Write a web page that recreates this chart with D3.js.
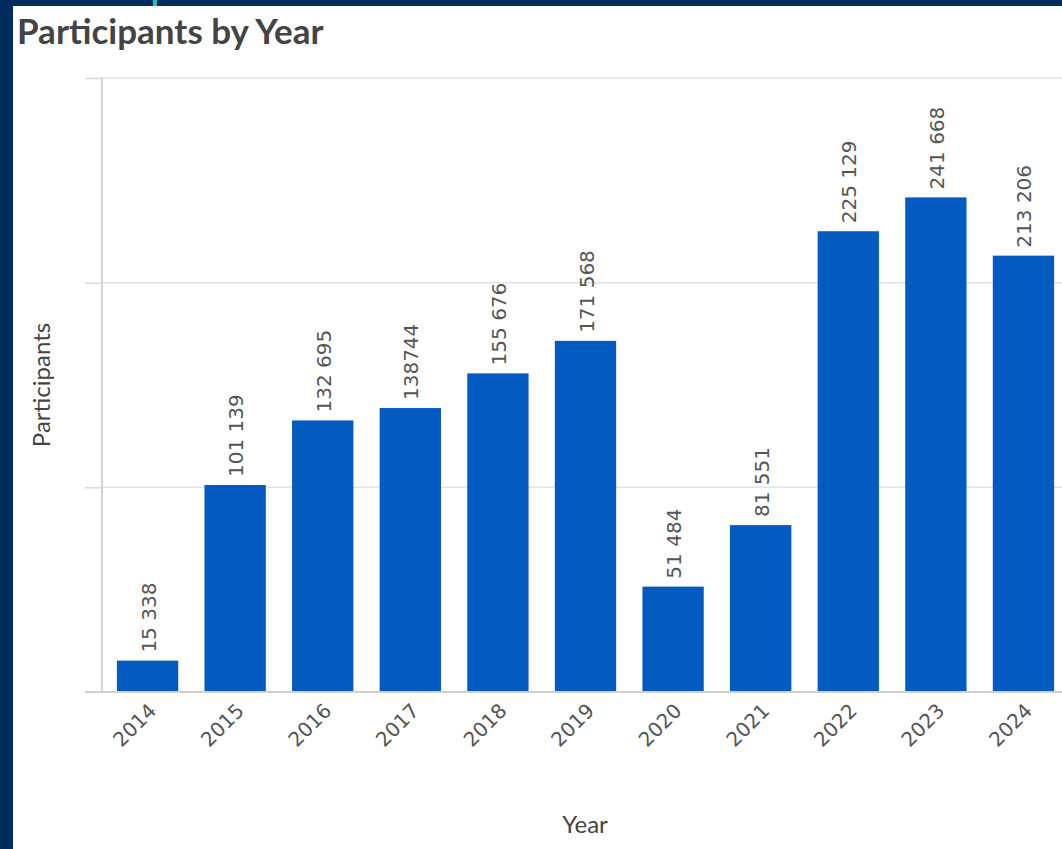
<!DOCTYPE html>
<html>
<head>
<meta charset="utf-8">
<script src="https://cdn.jsdelivr.net/npm/d3@7"></script>
<style>
  body { margin: 0; background: #012d5e; overflow: hidden; }
  svg { display: block; }
</style>
</head>
<body>
<svg id="chart" width="1062" height="849"></svg>
<script>
// data
const years = ['2014', '2015', '2016', '2017', '2018', '2019', '2020', '2021', '2022', '2023', '2024'];
const participants = [15338, 101139, 132695, 138744, 155676, 171568, 51484, 81551, 225129, 241668, 213206];
const valueLabels = ['15 338', '101 139', '132 695', '138744', '155 676', '171 568', '51 484', '81 551', '225 129', '241 668', '213 206'];
const yTicks = [0, 100000, 200000, 300000];

const svg = d3.select('#chart');
const W = 1062, H = 849;
const plotTop = 78, plotBottom = 692, plotLeft = 102;

// page frame
svg.append('rect').attr('width', W).attr('height', H).attr('fill', '#012d5e');
svg.append('rect').attr('x', 13).attr('y', 6).attr('width', W - 13).attr('height', H - 6).attr('fill', '#fff');
svg.append('rect').attr('x', 153).attr('y', 0).attr('width', 4).attr('height', 6).attr('fill', '#22c4ae');

svg.append('text')
  .attr('x', 17).attr('y', 44)
  .attr('font-family', 'Lato, sans-serif')
  .attr('font-weight', 'bold')
  .attr('font-size', 35)
  .attr('fill', '#444')
  .text('Participants by Year');

const x = d3.scaleBand()
  .domain(years)
  .range([plotLeft, plotLeft + 967])
  .paddingInner(0.3)
  .paddingOuter(0.17);

const y = d3.scaleLinear()
  .domain([0, 300000])
  .range([plotBottom, plotTop]);

// grid + y axis (no labels)
const yAxis = svg.append('g')
  .attr('transform', 'translate(' + plotLeft + ',0)')
  .call(d3.axisLeft(y).tickValues(yTicks).tickSize(17).tickFormat(''));
yAxis.select('.domain').remove();
yAxis.selectAll('line').attr('stroke', '#d9d9d9').attr('stroke-width', 1.5);

svg.append('g')
  .selectAll('line')
  .data(yTicks)
  .enter()
  .append('line')
  .attr('x1', plotLeft).attr('x2', W)
  .attr('y1', d => y(d)).attr('y2', d => y(d))
  .attr('stroke', '#e3e3e3')
  .attr('stroke-width', 1.5);

svg.append('line')
  .attr('x1', plotLeft).attr('x2', plotLeft)
  .attr('y1', plotTop).attr('y2', plotBottom)
  .attr('stroke', '#d4d4d4').attr('stroke-width', 2);

// bars
svg.append('g')
  .selectAll('rect')
  .data(participants)
  .enter()
  .append('rect')
  .attr('x', (d, i) => x(years[i]))
  .attr('y', d => y(d))
  .attr('width', x.bandwidth())
  .attr('height', d => y(0) - y(d))
  .attr('fill', '#035bc1');

// baseline
svg.append('line')
  .attr('x1', 85).attr('x2', W)
  .attr('y1', plotBottom).attr('y2', plotBottom)
  .attr('stroke', '#d0d0d0').attr('stroke-width', 2);

// value labels
svg.append('g')
  .selectAll('text')
  .data(participants)
  .enter()
  .append('text')
  .attr('transform', (d, i) => 'translate(' + (x(years[i]) + x.bandwidth() / 2 + 8) + ',' + (y(d) - 8) + ') rotate(-90)')
  .attr('font-family', 'DejaVu Sans, sans-serif')
  .attr('font-size', 20)
  .attr('fill', '#555')
  .text((d, i) => valueLabels[i]);

// x axis labels
const xAxis = svg.append('g')
  .attr('transform', 'translate(0,' + plotBottom + ')')
  .call(d3.axisBottom(x).tickSize(0));
xAxis.select('.domain').remove();
xAxis.selectAll('text')
  .attr('font-family', 'DejaVu Sans, sans-serif')
  .attr('font-size', 20)
  .attr('fill', '#555')
  .attr('text-anchor', 'end')
  .attr('dy', null)
  .attr('y', 0)
  .attr('transform', 'translate(10,20) rotate(-45)');

// axis titles
svg.append('text')
  .attr('x', 585).attr('y', 833)
  .attr('text-anchor', 'middle')
  .attr('font-family', 'Lato, sans-serif')
  .attr('font-size', 24)
  .attr('fill', '#444')
  .text('Year');

svg.append('text')
  .attr('transform', 'translate(50,385) rotate(-90)')
  .attr('text-anchor', 'middle')
  .attr('font-family', 'Lato, sans-serif')
  .attr('font-size', 24)
  .attr('fill', '#444')
  .text('Participants');
</script>
</body>
</html>
